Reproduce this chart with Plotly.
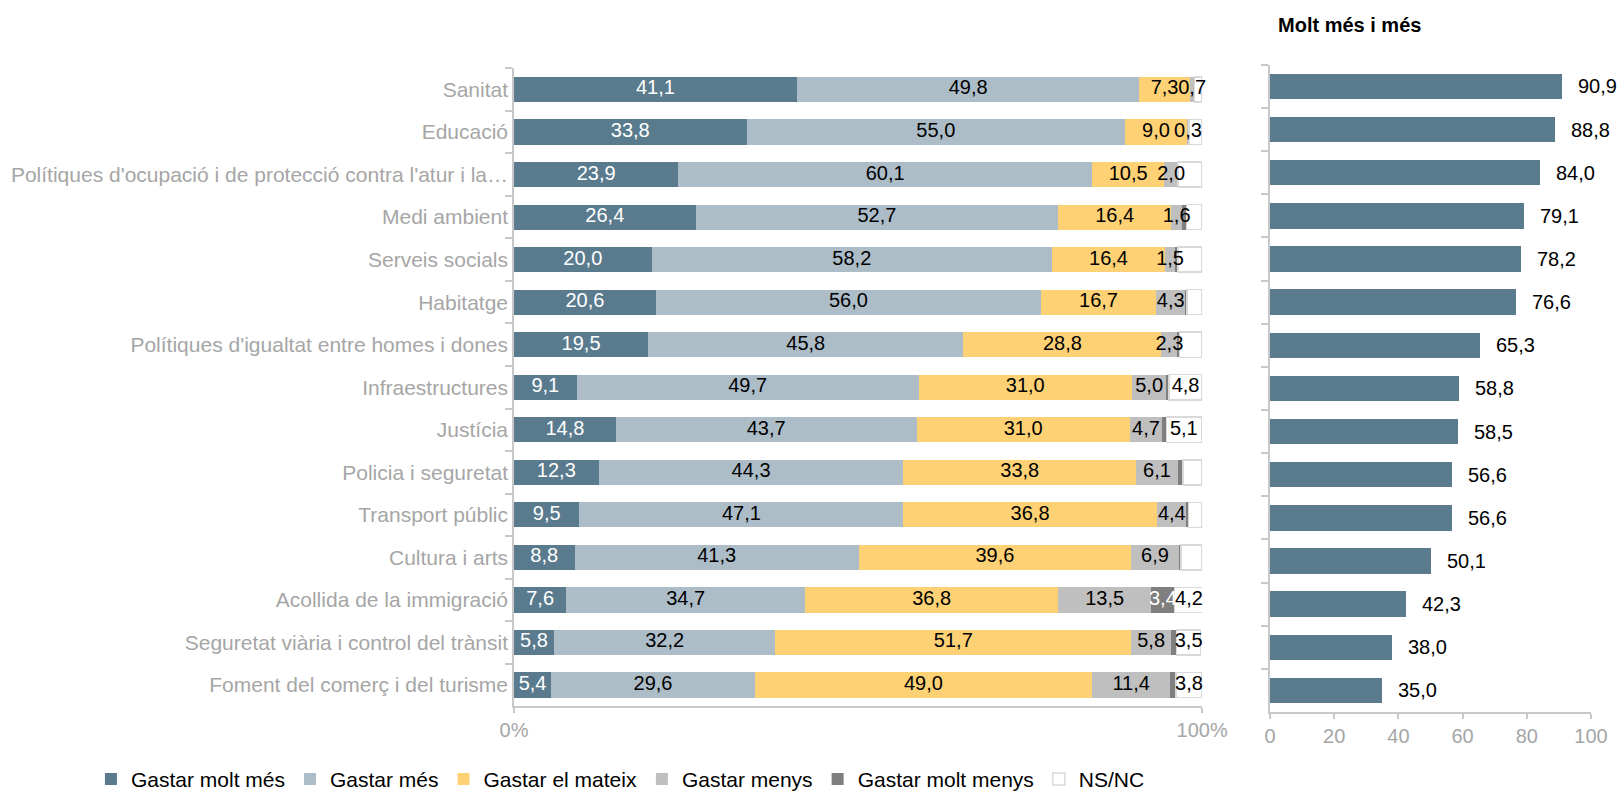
import plotly.graph_objects as go

# Spending areas, top to bottom
categories = [
    "Sanitat",
    "Educació",
    "Polítiques d'ocupació i de protecció contra l'atur i la…",
    "Medi ambient",
    "Serveis socials",
    "Habitatge",
    "Polítiques d'igualtat entre homes i dones",
    "Infraestructures",
    "Justícia",
    "Policia i seguretat",
    "Transport públic",
    "Cultura i arts",
    "Acollida de la immigració",
    "Seguretat viària i control del trànsit",
    "Foment del comerç i del turisme",
]

# Percentages per answer
molt_mes = [41.1, 33.8, 23.9, 26.4, 20.0, 20.6, 19.5, 9.1, 14.8, 12.3, 9.5, 8.8, 7.6, 5.8, 5.4]
mes = [49.8, 55.0, 60.1, 52.7, 58.2, 56.0, 45.8, 49.7, 43.7, 44.3, 47.1, 41.3, 34.7, 32.2, 29.6]
mateix = [7.3, 9.0, 10.5, 16.4, 16.4, 16.7, 28.8, 31.0, 31.0, 33.8, 36.8, 39.6, 36.8, 51.7, 49.0]
menys = [0.7, 0.3, 2.0, 1.6, 1.5, 4.3, 2.3, 5.0, 4.7, 6.1, 4.4, 6.9, 13.5, 5.8, 11.4]
molt_menys = [0.0, 0.0, 0.0, 0.6, 0.4, 0.2, 0.3, 0.4, 0.6, 0.7, 0.2, 0.3, 3.4, 0.8, 0.8]
ns_nc = [1.1, 1.9, 3.5, 2.3, 3.5, 2.2, 3.3, 4.8, 5.1, 2.8, 2.0, 3.1, 4.2, 3.5, 3.8]

# Which rows carry a value label for the smaller answers
label_molt_menys = [12]
label_ns_nc = [7, 8, 12, 13, 14]

# "Molt més i més" = molt més + més
molt_mes_i_mes = [round(a + b, 1) for a, b in zip(molt_mes, mes)]

series = [
    ("Gastar molt més", molt_mes, "#5a7b8e", "white", None),
    ("Gastar més", mes, "#adbdc8", "black", None),
    ("Gastar el mateix", mateix, "#ffd175", "black", None),
    ("Gastar menys", menys, "#bfbfbf", "black", None),
    ("Gastar molt menys", molt_menys, "#7f7f7f", "white", label_molt_menys),
    ("NS/NC", ns_nc, "#ffffff", "black", label_ns_nc),
]

FONT = "Liberation Sans, Arial, sans-serif"
AXIS_GREY = "#c8c8c8"
LABEL_GREY = "#a6a6a6"
VALUE_SIZE = 20
LABEL_SIZE = 21
N = len(categories)


def fmt(v):
    return f"{v:.1f}".replace(".", ",")


fig = go.Figure()

# Stacked bars
for name, vals, color, tcolor, shown in series:
    line = dict(width=1.5, color="#d9d9d9") if name == "NS/NC" else dict(width=0)
    fig.add_trace(go.Bar(
        name=name,
        y=categories,
        x=vals,
        orientation="h",
        xaxis="x",
        yaxis="y",
        marker=dict(color=color, line=line),
        hoverinfo="skip",
    ))

# Value labels, drawn above every segment at the centre of each segment
base = [0.0] * N
for name, vals, color, tcolor, shown in series:
    mids = [b + v / 2 for b, v in zip(base, vals)]
    if shown is None:
        texts = [fmt(v) for v in vals]
    else:
        texts = [fmt(v) if i in shown else "" for i, v in enumerate(vals)]
    fig.add_trace(go.Scatter(
        x=mids,
        y=categories,
        mode="text",
        text=texts,
        textposition="middle center",
        textfont=dict(color=tcolor, size=VALUE_SIZE, family=FONT),
        xaxis="x",
        yaxis="y",
        showlegend=False,
        hoverinfo="skip",
        cliponaxis=False,
    ))
    base = [b + v for b, v in zip(base, vals)]

# Right panel: combined share
fig.add_trace(go.Bar(
    y=categories,
    x=molt_mes_i_mes,
    orientation="h",
    xaxis="x2",
    yaxis="y2",
    marker=dict(color="#5a7b8e", line=dict(width=0)),
    showlegend=False,
    hoverinfo="skip",
))

for cat, v in zip(categories, molt_mes_i_mes):
    fig.add_annotation(
        x=v, y=cat, xref="x2", yref="y2",
        text=fmt(v), showarrow=False,
        xanchor="left", xshift=14,
        font=dict(size=VALUE_SIZE, color="black", family=FONT),
    )

fig.add_annotation(
    x=1276 / 1624, y=0.968, xref="paper", yref="paper",
    text="<b>Molt més i més</b>", showarrow=False,
    xanchor="left", yanchor="middle",
    font=dict(size=20, color="black", family=FONT),
)

fig.update_layout(
    width=1624,
    height=792,
    margin=dict(l=0, r=0, t=0, b=0, autoexpand=False),
    paper_bgcolor="white",
    plot_bgcolor="white",
    barmode="stack",
    bargap=0.41,
    font=dict(family=FONT, size=VALUE_SIZE, color=LABEL_GREY),
    xaxis=dict(
        domain=[0.3165, 0.7402],
        range=[0, 100],
        tickvals=[0, 100],
        ticktext=["0%", "100%"],
        showgrid=False, zeroline=False,
        showline=True, linecolor=AXIS_GREY, linewidth=1.5,
        ticks="outside", ticklen=5, tickcolor=AXIS_GREY, tickwidth=1.5,
        tickfont=dict(size=VALUE_SIZE, color=LABEL_GREY),
        anchor="y",
        automargin=False,
    ),
    yaxis=dict(
        domain=[0.1082, 0.9139],
        range=[N - 0.5, -0.5],
        showgrid=False, zeroline=False,
        showline=True, linecolor=AXIS_GREY, linewidth=1.5,
        ticks="outside", ticklen=7, tickcolor=AXIS_GREY, tickwidth=1.5,
        tickson="boundaries",
        tickfont=dict(size=LABEL_SIZE, color=LABEL_GREY),
        automargin=False,
        anchor="x",
    ),
    xaxis2=dict(
        domain=[0.7820, 0.9797],
        range=[0, 100],
        tickvals=[0, 20, 40, 60, 80, 100],
        showgrid=False, zeroline=False,
        showline=True, linecolor=AXIS_GREY, linewidth=1.5,
        ticks="outside", ticklen=5, tickcolor=AXIS_GREY, tickwidth=1.5,
        tickfont=dict(size=VALUE_SIZE, color=LABEL_GREY),
        anchor="y2",
        automargin=False,
    ),
    yaxis2=dict(
        domain=[0.1010, 0.9181],
        range=[N - 0.5, -0.5],
        showgrid=False, zeroline=False,
        showline=True, linecolor=AXIS_GREY, linewidth=1.5,
        ticks="outside", ticklen=7, tickcolor=AXIS_GREY, tickwidth=1.5,
        tickson="boundaries",
        showticklabels=False,
        automargin=False,
        anchor="x2",
    ),
    legend=dict(
        orientation="h",
        x=0.056, y=0.016,
        xanchor="left", yanchor="middle",
        font=dict(size=LABEL_SIZE, color="black", family=FONT),
        itemwidth=30,
        traceorder="normal",
    ),
)

fig.write_html("out.html")
